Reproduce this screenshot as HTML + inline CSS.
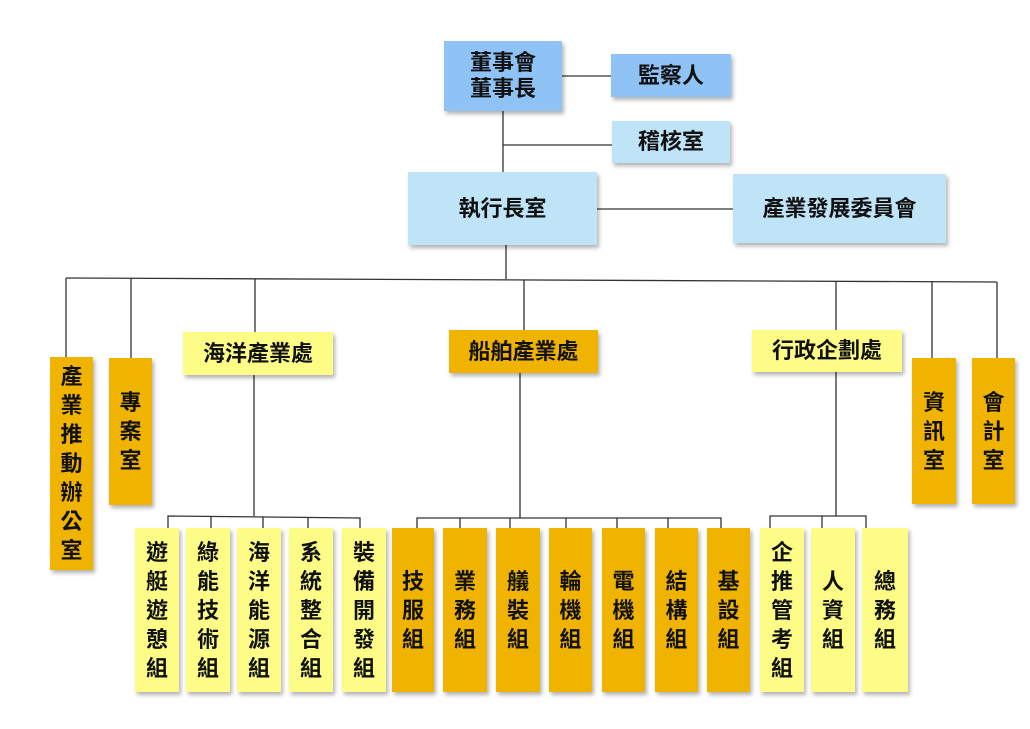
<!DOCTYPE html>
<html><head><meta charset="utf-8"><style>
body{margin:0;width:1030px;height:729px;background:#fff;position:relative;overflow:hidden;font-family:"Liberation Sans","Noto Sans CJK TC",sans-serif;font-weight:bold;color:#111}
.b{position:absolute;display:flex;align-items:center;justify-content:center;text-align:center;box-shadow:2px 3px 4px rgba(0,0,0,.3);font-size:22px;line-height:26px}
.v{line-height:29px;font-size:22px}
.db{background:#8fc2f5}.lb{background:#bfe4f7}.o{background:#f0b400}.y{background:#fcfc86}
svg{position:absolute;left:0;top:0}
</style></head><body>
<svg width="1030" height="729" stroke="#333" stroke-width="1.3" fill="none">
<line x1="562" y1="76" x2="612" y2="76"/>
<line x1="503" y1="111" x2="503" y2="172"/>
<line x1="503" y1="145" x2="612" y2="145"/>
<line x1="597" y1="209" x2="733" y2="209"/>
<line x1="506" y1="245" x2="506" y2="279"/>
<polyline points="66,278 997,282"/>
<line x1="66" y1="278" x2="66" y2="357"/>
<line x1="131" y1="278" x2="131" y2="358"/>
<line x1="255" y1="279" x2="255" y2="332"/>
<line x1="524" y1="280" x2="524" y2="330"/>
<line x1="836" y1="281" x2="836" y2="330"/>
<line x1="932" y1="281" x2="932" y2="358"/>
<line x1="997" y1="282" x2="997" y2="358"/>
<line x1="254" y1="375" x2="254" y2="516"/>
<polyline points="168,528 168,516 360,518 360,528"/>
<line x1="211" y1="516" x2="211" y2="528"/><line x1="263" y1="517" x2="263" y2="528"/><line x1="308" y1="517" x2="308" y2="528"/>
<line x1="520" y1="373" x2="520" y2="518"/>
<polyline points="417,528 417,518 721,518 721,528"/>
<line x1="460" y1="518" x2="460" y2="528"/><line x1="510" y1="518" x2="510" y2="528"/><line x1="566" y1="518" x2="566" y2="528"/><line x1="617" y1="518" x2="617" y2="528"/><line x1="668" y1="518" x2="668" y2="528"/>
<line x1="836" y1="372" x2="836" y2="516"/>
<polyline points="770,528 770,516 866,516 866,528"/>
<line x1="822" y1="516" x2="822" y2="528"/>
</svg>
<div class="b db" style="left:444px;top:41px;width:118px;height:70px">董事會<br>董事長</div>
<div class="b db" style="left:611px;top:54px;width:120px;height:43px">監察人</div>
<div class="b lb" style="left:612px;top:121px;width:118px;height:42px">稽核室</div>
<div class="b lb" style="left:408px;top:172px;width:189px;height:73px">執行長室</div>
<div class="b lb" style="left:733px;top:174px;width:213px;height:69px">產業發展委員會</div>
<div class="b o v" style="left:50px;top:357px;width:43px;height:213px">產<br>業<br>推<br>動<br>辦<br>公<br>室</div>
<div class="b o v" style="left:109px;top:358px;width:43px;height:147px">專<br>案<br>室</div>
<div class="b y" style="left:183px;top:332px;width:150px;height:43px">海洋產業處</div>
<div class="b o" style="left:449px;top:330px;width:149px;height:43px">船舶產業處</div>
<div class="b y" style="left:752px;top:330px;width:150px;height:42px">行政企劃處</div>
<div class="b o v" style="left:912px;top:358px;width:44px;height:146px">資<br>訊<br>室</div>
<div class="b o v" style="left:972px;top:358px;width:43px;height:146px">會<br>計<br>室</div>
<div class="b y v" style="left:135px;top:528px;width:44px;height:164px">遊<br>艇<br>遊<br>憩<br>組</div>
<div class="b y v" style="left:186px;top:528px;width:44px;height:164px">綠<br>能<br>技<br>術<br>組</div>
<div class="b y v" style="left:237px;top:528px;width:44px;height:164px">海<br>洋<br>能<br>源<br>組</div>
<div class="b y v" style="left:289px;top:528px;width:44px;height:164px">系<br>統<br>整<br>合<br>組</div>
<div class="b y v" style="left:342px;top:528px;width:44px;height:164px">裝<br>備<br>開<br>發<br>組</div>
<div class="b o v" style="left:392px;top:528px;width:42px;height:164px">技<br>服<br>組</div>
<div class="b o v" style="left:443px;top:528px;width:44px;height:164px">業<br>務<br>組</div>
<div class="b o v" style="left:496px;top:528px;width:44px;height:164px">艤<br>裝<br>組</div>
<div class="b o v" style="left:549px;top:528px;width:43px;height:164px">輪<br>機<br>組</div>
<div class="b o v" style="left:602px;top:528px;width:43px;height:164px">電<br>機<br>組</div>
<div class="b o v" style="left:655px;top:528px;width:43px;height:164px">結<br>構<br>組</div>
<div class="b o v" style="left:707px;top:528px;width:43px;height:164px">基<br>設<br>組</div>
<div class="b y v" style="left:760px;top:528px;width:44px;height:164px">企<br>推<br>管<br>考<br>組</div>
<div class="b y v" style="left:811px;top:528px;width:44px;height:164px">人<br>資<br>組</div>
<div class="b y v" style="left:862px;top:528px;width:46px;height:164px">總<br>務<br>組</div>
</body></html>
